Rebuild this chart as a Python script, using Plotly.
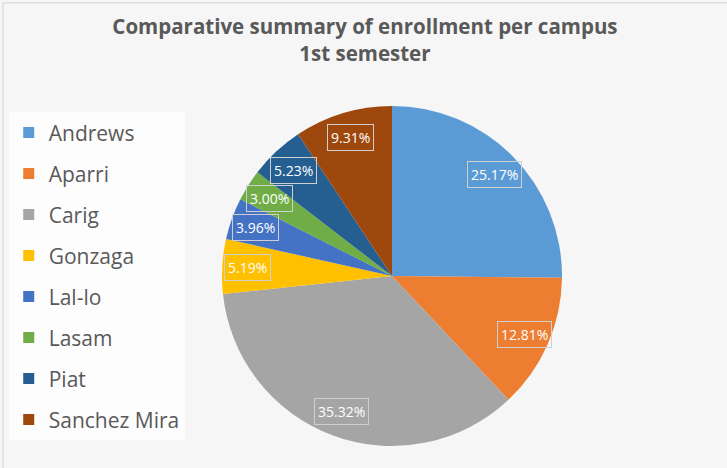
import math
import plotly.graph_objects as go

campuses = ["Andrews", "Aparri", "Carig", "Gonzaga", "Lal-lo", "Lasam", "Piat", "Sanchez Mira"]
shares = [25.17, 12.81, 35.32, 5.19, 3.96, 3.00, 5.23, 9.31]
colors = ["#5B9BD5", "#ED7D31", "#A5A5A5", "#FFC000", "#4472C4", "#70AD47", "#255E91", "#9E480E"]
title_lines = ["Comparative summary of enrollment per campus", "1st semester"]

W, H = 727, 468
cx, cy, R = 392, 276, 170
label_frac = 0.85

fig = go.Figure()
fig.add_trace(go.Pie(
    labels=campuses, values=shares, sort=False, direction="clockwise", rotation=0,
    marker=dict(colors=colors, line=dict(width=0)),
    textinfo="none", showlegend=False,
    domain=dict(x=[(cx - R) / W, (cx + R) / W], y=[1 - (cy + R) / H, 1 - (cy - R) / H]),
    hovertemplate="%{label}: %{value:.2f}%<extra></extra>",
))

# legend entries (one group each so the spacing can be set)
for name, col in zip(campuses, colors):
    fig.add_trace(go.Scatter(x=[None], y=[None], mode="markers", name=name, legendgroup=name,
                             marker=dict(symbol="square", size=11, color=col), hoverinfo="skip"))

# boxed data labels positioned from the slice angles
total = sum(shares)
cum = 0.0
annotations = []
for v in shares:
    mid = (cum + v / 2) / total * 2 * math.pi
    cum += v
    px = cx + label_frac * R * math.sin(mid)
    py = cy - label_frac * R * math.cos(mid)
    annotations.append(dict(
        x=px / W, y=1 - py / H, xref="paper", yref="paper", showarrow=False,
        text=f"{v:.2f}%", font=dict(family="Open Sans", size=14, color="white"),
        bordercolor="#cfcfcf", borderwidth=1, borderpad=3,
        xanchor="center", yanchor="middle"))

fig.update_layout(
    width=W, height=H,
    margin=dict(l=0, r=0, t=0, b=0),
    paper_bgcolor="#f6f6f6", plot_bgcolor="rgba(0,0,0,0)",
    title=dict(text="<br>".join(title_lines), x=0.502, xanchor="center",
               y=0.927, yanchor="top",
               font=dict(family="Open Sans", size=20.5, color="#595959", weight="bold")),
    xaxis=dict(visible=False), yaxis=dict(visible=False),
    legend=dict(x=0.012, xanchor="left", y=0.76, yanchor="top",
                bgcolor="#fdfdfd", font=dict(family="Open Sans", size=21, color="#595959"),
                traceorder="grouped", tracegroupgap=10.7),
    annotations=annotations,
    shapes=[dict(type="rect", xref="paper", yref="paper", x0=0.004, y0=-0.02, x1=1.02, y1=0.994,
                 line=dict(color="#d3d3d3", width=1), layer="below")],
)

fig.write_html("out.html", config={"displayModeBar": False},
               post_script="document.body.style.margin='0';")
